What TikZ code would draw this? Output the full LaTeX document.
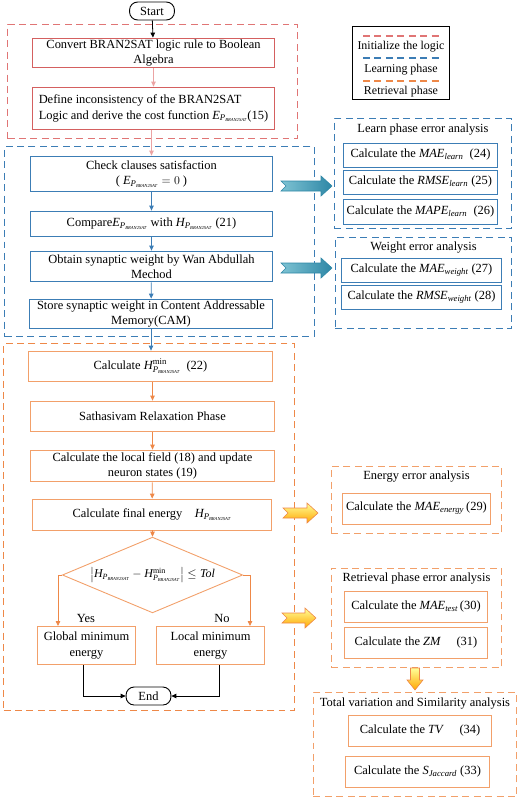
\documentclass[tikz,border=0pt]{standalone}
\usepackage{amsmath}
\usepackage{fontspec}
\setmainfont{Liberation Serif}
\usetikzlibrary{shapes.geometric,arrows.meta}
\definecolor{redc}{HTML}{D46060}
\definecolor{redd}{HTML}{E07575}
\definecolor{redl}{HTML}{EBA3A3}
\definecolor{bluec}{HTML}{3C7DB5}
\definecolor{orc}{HTML}{EE8848}
\definecolor{orb}{HTML}{F2A06A}
\definecolor{tealdk}{HTML}{2E87A6}
\definecolor{teallt}{HTML}{D4EEF3}
\definecolor{tealmd}{HTML}{7EC3D3}
\newcommand\bsat{\mbox{\fontsize{4.6}{5}\selectfont\itshape BRAN2SAT}}
\newcommand\PB{\textit{P}_{\bsat}}
\newcommand\EP{$\textit{E}_{\PB}$}
\newcommand\HP{$\textit{H}_{\PB}$}
\newcommand\HPmin{$\textit{H}^{\text{min}}_{\PB}$}
\newcommand\ital[2]{$\textit{#1}_{\textit{#2}}$}
\newcommand\harrowpath[3]{({#1},{#3-5}) -- ({#2-11},{#3-5}) -- ({#2-11},{#3-10}) -- ({#2},{#3}) -- ({#2-11},{#3+10}) -- ({#2-11},{#3+5}) -- ({#1},{#3+5}) -- ({#1+5},{#3}) -- cycle}
\tikzset{
  every node/.style={font=\fontsize{12.5}{15.5}\selectfont, inner sep=0pt},
  rbox/.style={draw=redc, line width=0.9pt, align=center},
  bbox/.style={draw=bluec, line width=0.9pt, align=center},
  obox/.style={draw=orb, line width=0.9pt, align=center},
  rdash/.style={draw=redd, line width=1.1pt, dash pattern=on 7pt off 4.5pt},
  bdash/.style={draw=bluec, line width=1.1pt, dash pattern=on 7pt off 4.5pt},
  odash/.style={draw=orc, line width=1.1pt, dash pattern=on 7pt off 4.5pt},
  odashl/.style={draw=orb, line width=1.1pt, dash pattern=on 7pt off 4.5pt},
  term/.style={draw=black, line width=0.9pt, rounded corners=8pt, minimum width=45, minimum height=18},
  karr/.style={draw=black, line width=0.8pt, -{Triangle[length=5pt,width=4.5pt]}},
  rarr/.style={draw=redl, line width=0.8pt, -{Triangle[length=5pt,width=4.5pt]}},
  barr/.style={draw=bluec, line width=0.8pt, -{Triangle[length=5pt,width=4.5pt]}},
  oarr/.style={draw=orc, line width=0.8pt, -{Triangle[length=5pt,width=4.5pt]}},
  tealarrow/.style={draw=tealdk, line width=0.6pt, left color=tealmd, middle color=teallt, right color=tealdk},
  yelarrow/.style={draw=orc, line width=0.6pt, top color=yellow!40!white, bottom color=orange!70!yellow},
}
\begin{document}
\begin{tikzpicture}[x=1bp,y=-1bp]
\useasboundingbox (0,0) rectangle (520,798);
% containers
\node[rdash, minimum width=291, minimum height=115] (cinit) at (152.5,81.5) {};
\node[bdash, minimum width=311, minimum height=191] (clearn) at (159.5,241.5) {};
\node[odash, minimum width=292, minimum height=368] (cret) at (149,527) {};
% legend
\node[draw=black, line width=0.9pt, minimum width=98, minimum height=74] (legend) at (401,63) {};
\draw[rdash] (363,36) -- (440,36);
\node[font=\fontsize{12}{14}\selectfont] (lg1) at (401,47) {Initialize the logic};
\draw[bdash] (363,58) -- (440,58);
\node[font=\fontsize{12}{14}\selectfont] (lg2) at (401,69.5) {Learning phase};
\draw[odash] (363,81) -- (440,81);
\node[font=\fontsize{12}{14}\selectfont] (lg3) at (401,92) {Retrieval phase};
% main flow
\node[term] (start) at (152,11) {Start};
\node[rbox, minimum width=243, minimum height=30] (b1) at (153.5,53) {Convert BRAN2SAT logic rule to Boolean\\Algebra};
\node[rbox, minimum width=243, minimum height=43, align=left] (b2) at (153.5,108.5) {Define inconsistency of the BRAN2SAT\\Logic and derive the cost function \EP(15)};
\node[bbox, minimum width=243, minimum height=36] (b3) at (151.5,174) {Check clauses satisfaction\\( \EP$\;=0$ )};
\node[bbox, minimum width=243, minimum height=25] (b4) at (151.5,223.5) {Compare\EP\ with \HP\ (21)};
\node[bbox, minimum width=243, minimum height=31] (b5) at (151.5,266.5) {Obtain synaptic weight by Wan Abdullah\\Mechod};
\node[bbox, minimum width=244, minimum height=30] (b6) at (151,314) {Store synaptic weight in Content Addressable\\Memory(CAM)};
\node[obox, minimum width=245, minimum height=31] (b7) at (150.5,366.5) {Calculate \HPmin\ \ (22)};
\node[obox, minimum width=245, minimum height=31] (b8) at (152.5,416.5) {Sathasivam Relaxation Phase};
\node[obox, minimum width=245, minimum height=32] (b9) at (152.5,466) {Calculate the local field (18) and update\\neuron states (19)};
\node[obox, minimum width=240, minimum height=31] (b10) at (152,514.5) {Calculate final energy\quad\HP};
\node[diamond, draw=orb, line width=0.9pt, minimum width=181, minimum height=76, aspect=2.4, font=\fontsize{12}{14}\selectfont] (dia) at (152.5,575) {$\left|\textit{H}_{\PB}-\textit{H}^{\text{min}}_{\PB}\right|\leq \textit{Tol}$};
\node (yes) at (86,618) {Yes};
\node (no) at (222,618) {No};
\node[obox, minimum width=99, minimum height=39] (glob) at (86.5,645.5) {Global minimum\\energy};
\node[obox, minimum width=109, minimum height=39] (loc) at (210.5,645.5) {Local minimum\\energy};
\node[term] (end) at (148.5,696) {End};
\coordinate (gin) at (58,626);
\coordinate (lin) at (250,626);
\coordinate (gout) at (83,665);
\coordinate (lout) at (219,665);
% connectors
\draw[karr] (start) -- (b1);
\draw[rarr] (b1) -- (b2);
\draw[rarr] (b2.south -| b3.north) -- (b3);
\draw[barr] (b3) -- (b4);
\draw[barr] (b4) -- (b5);
\draw[barr] (b5) -- (b6);
\draw[barr] (b6.south) -- (b6.south |- b7.north);
\draw[oarr] (b7.south -| b8.north) -- (b8);
\draw[oarr] (b8) -- (b9);
\draw[oarr] (b9) -- (b10);
\draw[oarr] (b10.south -| dia.north) -- (dia);
\draw[oarr] (dia.west) -| (gin);
\draw[oarr] (dia.east) -| (lin);
\draw[karr] (gout) |- (end);
\draw[karr] (lout) |- (end);
% right side: learn phase
\node[bdash, minimum width=178, minimum height=111] (clerr) at (423,173.5) {};
\node (tlerr) at (423,130) {Learn phase error analysis};
\node[bbox, minimum width=155, minimum height=24] (e24) at (420.5,155) {Calculate the \ital{MAE}{learn}\ \ (24)};
\node[bbox, minimum width=155, minimum height=24] (e25) at (420.5,182) {Calculate the \ital{RMSE}{learn}\ (25)};
\node[bbox, minimum width=155, minimum height=25] (e26) at (420.5,211.5) {Calculate the \ital{MAPE}{learn}\ \ (26)};
% weight
\node[bdash, minimum width=177, minimum height=92] (cwerr) at (423.5,283) {};
\node (twerr) at (423.5,248) {Weight error analysis};
\node[bbox, minimum width=161, minimum height=24] (e27) at (421.5,270) {Calculate the \ital{MAE}{weight}\ (27)};
\node[bbox, minimum width=161, minimum height=24] (e28) at (421.5,297) {Calculate the \ital{RMSE}{weight}\ (28)};
% energy
\node[odashl, minimum width=171, minimum height=68] (ceerr) at (416.5,500) {};
\node (teerr) at (416.5,477) {Energy error analysis};
\node[obox, minimum width=149, minimum height=31] (e29) at (416.5,508.5) {Calculate the \ital{MAE}{energy}\,(29)};
% retrieval
\node[odashl, minimum width=171, minimum height=100] (crerr) at (416.5,618) {};
\node (trerr) at (416.5,578.5) {Retrieval phase error analysis};
\node[obox, minimum width=144, minimum height=31] (e30) at (416,606.5) {Calculate the \ital{MAE}{test}\,(30)};
\node[obox, minimum width=144, minimum height=31] (e31) at (416,642.5) {Calculate the \textit{ZM}\quad\ (31)};
% total variation
\node[odashl, minimum width=204, minimum height=105] (cterr) at (415,744.5) {};
\node (tterr) at (415,703.5) {Total variation and Similarity analysis};
\node[obox, minimum width=144, minimum height=31] (e34) at (420,730.5) {Calculate the \textit{TV}\quad\ (34)};
\node[obox, minimum width=145, minimum height=31] (e33) at (417.5,771.5) {Calculate the \ital{S}{Jaccard}\ (33)};
% block arrows
\path[tealarrow] \harrowpath{281}{332}{186};
\path[tealarrow] \harrowpath{281}{332}{268};
\path[yelarrow] \harrowpath{283}{318}{513};
\path[yelarrow] \harrowpath{282}{316}{618};
\path[yelarrow] (410.5,668) -- (419.5,668) -- (419.5,680) -- (423,680) -- (415,690) -- (407,680) -- (410.5,680) -- cycle;
\end{tikzpicture}
\end{document}
